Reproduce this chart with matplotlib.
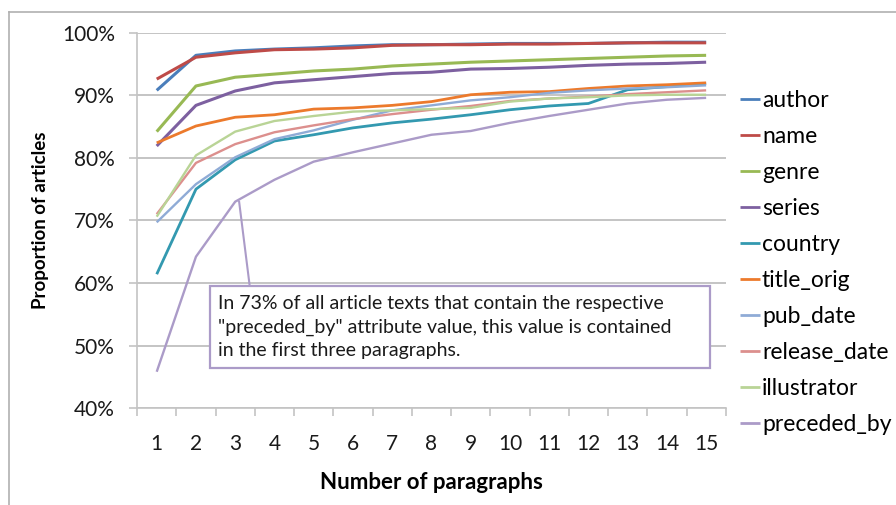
import matplotlib
matplotlib.use('Agg')
import matplotlib.pyplot as plt
from matplotlib.lines import Line2D
from matplotlib.patches import Rectangle
from matplotlib.ticker import FixedLocator, FuncFormatter

plt.rcParams['font.family'] = ['Lato', 'DejaVu Sans']

# Anteil der Artikel (%) je Anzahl berücksichtigter Absätze
paragraphs = list(range(1, 16))
author = [90.8, 96.4, 97.1, 97.4, 97.6, 97.9, 98.1, 98.1, 98.2, 98.3, 98.3, 98.3, 98.4, 98.5, 98.5]
name = [92.6, 96.1, 96.8, 97.3, 97.4, 97.6, 98.0, 98.1, 98.1, 98.2, 98.2, 98.3, 98.4, 98.4, 98.4]
genre = [84.2, 91.5, 92.9, 93.4, 93.9, 94.2, 94.7, 95.0, 95.3, 95.5, 95.7, 95.9, 96.1, 96.3, 96.4]
series = [81.9, 88.4, 90.7, 92.0, 92.5, 93.0, 93.5, 93.7, 94.2, 94.3, 94.5, 94.8, 95.0, 95.1, 95.3]
country = [61.4, 75.0, 79.7, 82.7, 83.7, 84.8, 85.6, 86.2, 86.9, 87.7, 88.3, 88.7, 90.9, 91.4, 91.9]
title_orig = [82.4, 85.1, 86.5, 86.9, 87.8, 88.0, 88.4, 89.0, 90.1, 90.5, 90.6, 91.1, 91.5, 91.7, 92.0]
pub_date = [69.7, 75.8, 80.1, 83.0, 84.4, 86.1, 87.6, 88.4, 89.2, 89.7, 90.4, 90.8, 91.1, 91.3, 91.6]
release_date = [71.0, 79.2, 82.2, 84.1, 85.2, 86.2, 87.0, 87.7, 88.3, 89.1, 89.5, 89.8, 90.2, 90.5, 90.8]
illustrator = [70.6, 80.4, 84.2, 85.9, 86.7, 87.4, 87.6, 87.8, 88.0, 89.0, 89.5, 89.7, 90.0, 90.1, 90.1]
preceded_by = [45.8, 64.2, 73.0, 76.5, 79.4, 80.9, 82.3, 83.7, 84.3, 85.6, 86.7, 87.7, 88.7, 89.3, 89.6]

labels = ['author', 'name', 'genre', 'series', 'country', 'title_orig',
          'pub_date', 'release_date', 'illustrator', 'preceded_by']
series_values = [author, name, genre, series, country, title_orig,
                 pub_date, release_date, illustrator, preceded_by]
colors = ['#4a7ebb', '#be4b48', '#98b954', '#7d60a0', '#3399b0', '#ec7a2c',
          '#8fabd6', '#dc8f8d', '#b9d496', '#ab9bc8']
widths = [2.2, 2.2, 2.2, 2.2, 2.0, 2.0, 1.7, 1.7, 1.7, 1.7]

fig = plt.figure(figsize=(8.96, 5.05), dpi=100)
ax = fig.add_axes([0.153, 0.192, 0.657, 0.743])

for lab, vals, c, w in zip(labels, series_values, colors, widths):
    ax.plot(paragraphs, vals, color=c, lw=w, label=lab, solid_capstyle='butt')

ax.set_xlim(0.5, 15.5)
ax.set_ylim(40, 100)

grid_c = '#c4c4c4'
ax.yaxis.set_major_locator(FixedLocator(range(40, 101, 10)))
ax.yaxis.set_major_formatter(FuncFormatter(lambda v, p: f'{v:.0f}%'))
ax.grid(axis='y', color=grid_c, lw=1.4)
ax.set_axisbelow(True)
ax.tick_params(axis='y', length=6, width=1.2, color=grid_c, labelsize=15,
               labelcolor='#1a1a1a', pad=10)

ax.xaxis.set_major_locator(FixedLocator(paragraphs))
ax.xaxis.set_minor_locator(FixedLocator([p + 0.5 for p in range(0, 16)]))
ax.tick_params(axis='x', which='major', length=0, labelsize=15,
               labelcolor='#1a1a1a', pad=19)
ax.tick_params(axis='x', which='minor', length=6, width=1.2, color=grid_c)

for s in ['top', 'right']:
    ax.spines[s].set_visible(False)
for s in ['left', 'bottom']:
    ax.spines[s].set_color(grid_c)
    ax.spines[s].set_linewidth(1.2)

ax.set_xlabel('Number of paragraphs', fontsize=16, fontweight='bold', labelpad=13)
ax.set_ylabel('Proportion of articles', fontsize=13.5, fontweight='bold', labelpad=9)

leg = ax.legend(loc='center left', bbox_to_anchor=(1.012, 0.387), frameon=False,
                fontsize=16.5, handlelength=0.87, handletextpad=0.1,
                labelspacing=0.655, borderaxespad=0, borderpad=0.3)
for h in leg.get_lines():
    h.set_linewidth(2)

# Erläuterung zu preceded_by
box = Rectangle((2.35, 46.4), 12.76, 13.1, fill=True, facecolor='white',
                edgecolor='#ab9bc8', lw=1.6, zorder=5)
ax.add_patch(box)
ax.plot([3.1, 3.37], [preceded_by[2], 59.5], color='#ab9bc8', lw=1.5, zorder=4)
ax.text(2.55, 58.0,
        'In 73% of all article texts that contain the respective\n'
        '"preceded_by" attribute value, this value is contained\n'
        'in the first three paragraphs.',
        fontsize=14, va='top', ha='left', color='#1a1a1a',
        linespacing=1.45, zorder=6)

# Rahmen des Diagrammbereichs
fig.add_artist(Line2D([9 / 896, 1], [1 - 12 / 505, 1 - 12 / 505], color='#b0b0b0', lw=1.2))
fig.add_artist(Line2D([9 / 896, 9 / 896], [0, 1 - 12 / 505], color='#b0b0b0', lw=1.2))

fig.savefig('out.png', dpi=100)
